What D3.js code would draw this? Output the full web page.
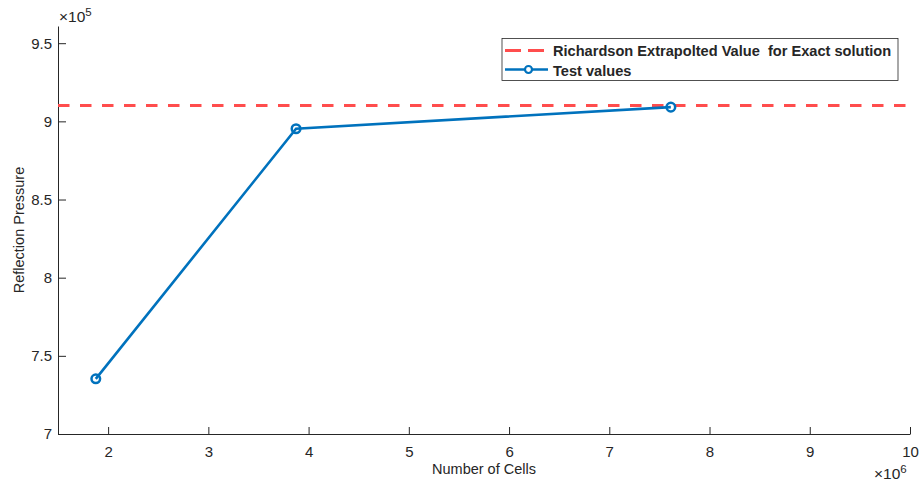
<!DOCTYPE html>
<html>
<head>
<meta charset="utf-8">
<script src="https://cdn.jsdelivr.net/npm/d3@7"></script>
<style>
  body { margin: 0; background: #fff; }
  text { font-family: "Liberation Sans", Arial, sans-serif; fill: #262626; }
</style>
</head>
<body>
<svg id="chart" width="919" height="483"></svg>
<script>
// cells (x 1e6) and reflection pressure (x 1e5)
const cellCounts = [1.877, 3.875, 7.614];
const testValues = [7.353, 8.953, 9.091];
const exactValue = 9.102;
const xTicks = [2, 3, 4, 5, 6, 7, 8, 9, 10];
const yTicks = [7, 7.5, 8, 8.5, 9, 9.5];
const legendLabels = ["Richardson Extrapolted Value  for Exact solution", "Test values"];

let svgWidth = 919;
let svgHeight = 483;

let pad = {
    top: 26,
    bottom: 49,
    left: 58,
    right: 9
};

let plotWidth = svgWidth - pad.left - pad.right;
let plotHeight = svgHeight - pad.top - pad.bottom;

let svg = d3.select("svg#chart");

let g = svg.append("g")
    .attr("transform", "translate(" + pad.left + "," + pad.top + ")");

let xScale = d3.scaleLinear()
    .domain([1.5, 10])
    .range([0, plotWidth]);

let yScale = d3.scaleLinear()
    .domain([7, 9.61])
    .range([plotHeight, 0]);

/* Axes, ticks pointing inward like matlab */
let xAxis = d3.axisBottom(xScale)
    .tickValues(xTicks)
    .tickSize(-7)
    .tickSizeOuter(0)
    .tickPadding(12)
    .tickFormat(d3.format("d"));

let yAxis = d3.axisLeft(yScale)
    .tickValues(yTicks)
    .tickSize(-8)
    .tickSizeOuter(0)
    .tickPadding(6)
    .tickFormat(d => String(d));

let xAxisG = g.append("g")
    .attr("transform", "translate(0," + plotHeight + ")")
    .call(xAxis);

let yAxisG = g.append("g")
    .call(yAxis);

[xAxisG, yAxisG].forEach(a => {
    a.select("path.domain").attr("stroke", "#262626").attr("stroke-width", 1);
    a.selectAll(".tick line").attr("stroke", "#262626");
    a.selectAll(".tick text")
        .style("font-size", "15px")
        .style("font-family", "'Liberation Sans', Arial, sans-serif")
        .attr("fill", "#262626");
});

/* Exponent labels */
let expTop = svg.append("text")
    .attr("x", pad.left + 1)
    .attr("y", 22)
    .style("font-size", "15.5px");
expTop.append("tspan").text("\u00d710");
expTop.append("tspan").attr("dy", -6).style("font-size", "11.5px").text("5");

let expBottom = svg.append("text")
    .attr("x", 874)
    .attr("y", 479)
    .style("font-size", "15.5px");
expBottom.append("tspan").text("\u00d710");
expBottom.append("tspan").attr("dy", -6).style("font-size", "11.5px").text("6");

/* Axis labels */
svg.append("text")
    .attr("x", pad.left + plotWidth / 2)
    .attr("y", 474)
    .style("text-anchor", "middle")
    .style("font-size", "14.5px")
    .text("Number of Cells");

svg.append("text")
    .attr("transform", "translate(24," + (pad.top + plotHeight / 2) + ")rotate(-90)")
    .style("text-anchor", "middle")
    .style("font-size", "14.5px")
    .text("Reflection Pressure");

/* Exact solution dashed line */
let exactColor = "#ff4d4d";
g.append("line")
    .attr("x1", xScale(1.5))
    .attr("x2", xScale(10))
    .attr("y1", yScale(exactValue))
    .attr("y2", yScale(exactValue))
    .attr("stroke", exactColor)
    .attr("stroke-width", 3)
    .attr("stroke-dasharray", "11.5,10.5");

/* Test values line + markers */
let blue = "#0072bd";
let pts = cellCounts.map((c, i) => [c, testValues[i]]);

g.append("path")
    .datum(pts)
    .attr("fill", "none")
    .attr("stroke", blue)
    .attr("stroke-width", 2.6)
    .attr("d", d3.line().x(d => xScale(d[0])).y(d => yScale(d[1])));

g.selectAll("circle.pt")
    .data(pts)
    .enter()
    .append("circle")
    .attr("class", "pt")
    .attr("cx", d => xScale(d[0]))
    .attr("cy", d => yScale(d[1]))
    .attr("r", 4.3)
    .attr("fill", "none")
    .attr("stroke", blue)
    .attr("stroke-width", 2.5);

/* Legend */
let legend = svg.append("g").attr("transform", "translate(502,38.5)");
legend.append("rect")
    .attr("width", 396)
    .attr("height", 42)
    .attr("fill", "#fff")
    .attr("stroke", "#262626")
    .attr("stroke-width", 0.8);

legend.append("line")
    .attr("x1", 3).attr("x2", 46)
    .attr("y1", 12).attr("y2", 12)
    .attr("stroke", exactColor)
    .attr("stroke-width", 3)
    .attr("stroke-dasharray", "16,7");

legend.append("line")
    .attr("x1", 3).attr("x2", 46)
    .attr("y1", 31).attr("y2", 31)
    .attr("stroke", blue)
    .attr("stroke-width", 2.6);
legend.append("circle")
    .attr("cx", 26.5).attr("cy", 31).attr("r", 3.5)
    .attr("fill", "#fff")
    .attr("stroke", blue)
    .attr("stroke-width", 2.2);

legendLabels.forEach((lab, i) => {
    legend.append("text")
        .attr("x", 51)
        .attr("y", 17.5 + i * 19.5)
        .style("font-size", "14.6px")
        .style("font-weight", "bold")
        .style("white-space", "pre")
        .attr("fill", "#000")
        .text(lab);
});
</script>
</body>
</html>
